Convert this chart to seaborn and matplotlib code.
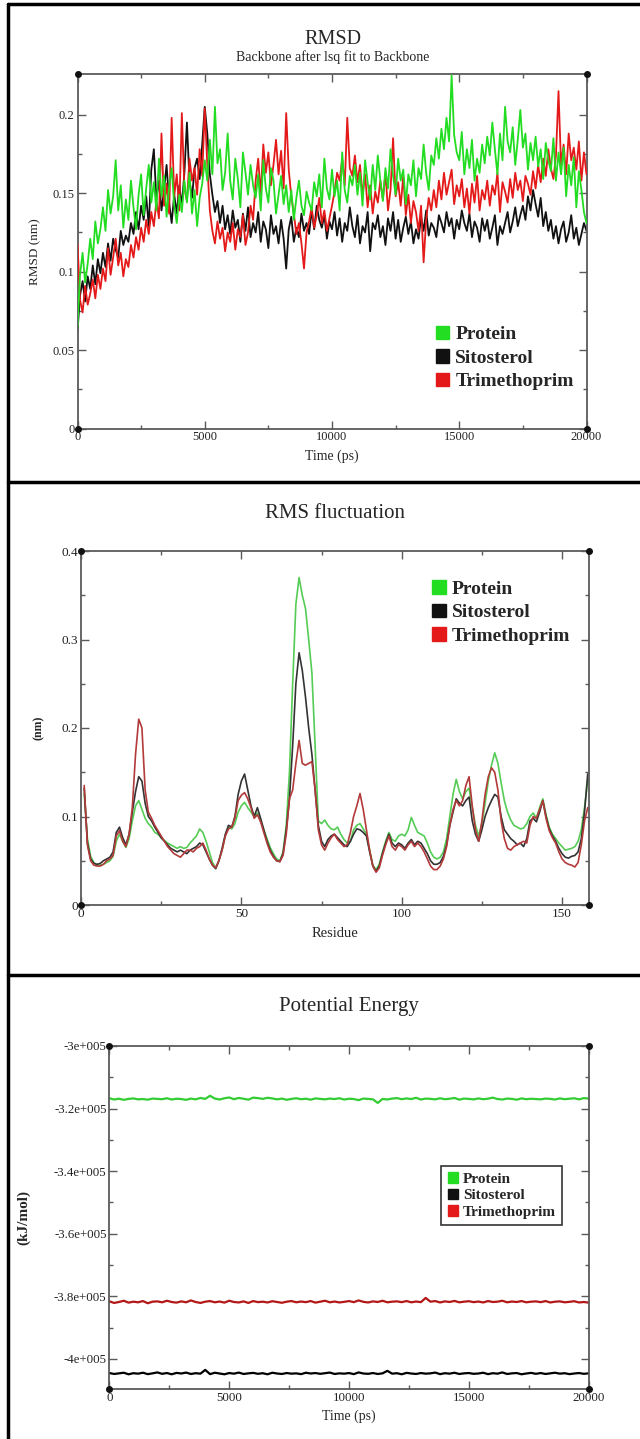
import numpy as np
import pandas as pd
import matplotlib
import matplotlib.pyplot as plt
import seaborn as sns
from matplotlib.patches import Patch
from matplotlib.lines import Line2D

matplotlib.use('Agg')

sns.set_style('ticks')
plt.rcParams['font.family'] = ['Liberation Serif', 'DejaVu Serif']

names = ['Protein', 'Sitosterol', 'Trimethoprim']

# ---------------- RMSD (nm), one value every 100 ps ----------------
rmsd_time = np.arange(0, 20001, 100)

rmsd_protein = [
    0.065, 0.098, 0.112, 0.093, 0.105, 0.121, 0.108, 0.132, 0.118, 0.127,
    0.141, 0.126, 0.152, 0.137, 0.148, 0.171, 0.139, 0.155, 0.128, 0.146,
    0.133, 0.158, 0.141, 0.127, 0.149, 0.162, 0.136, 0.153, 0.168, 0.144,
    0.157, 0.139, 0.172, 0.148, 0.161, 0.135, 0.154, 0.166, 0.142, 0.131,
    0.149, 0.138, 0.158, 0.144, 0.163, 0.137, 0.152, 0.129, 0.147, 0.156,
    0.171, 0.158, 0.184, 0.162, 0.205, 0.169, 0.178, 0.152, 0.163, 0.188,
    0.158, 0.146, 0.172, 0.159, 0.141, 0.176, 0.163, 0.149, 0.168, 0.155,
    0.147, 0.162, 0.139, 0.171, 0.153, 0.144, 0.166, 0.158, 0.137, 0.149,
    0.161, 0.143, 0.155, 0.138, 0.152, 0.133, 0.147, 0.158, 0.142, 0.136,
    0.151, 0.144, 0.139, 0.157, 0.148, 0.162, 0.141, 0.172, 0.153, 0.146,
    0.165, 0.148, 0.158, 0.139, 0.176, 0.152, 0.144, 0.161, 0.155, 0.168,
    0.149, 0.163, 0.142, 0.171, 0.157, 0.146, 0.168, 0.152, 0.174, 0.158,
    0.145, 0.166, 0.153, 0.178, 0.161, 0.149, 0.172, 0.158, 0.165, 0.143,
    0.162, 0.155, 0.171, 0.148, 0.166, 0.159, 0.181, 0.163, 0.152, 0.174,
    0.168, 0.185, 0.172, 0.191, 0.178, 0.198, 0.183, 0.225, 0.187, 0.176,
    0.171, 0.189, 0.162, 0.178, 0.166, 0.184, 0.158, 0.172, 0.163, 0.181,
    0.169, 0.186, 0.174, 0.195, 0.178, 0.162, 0.188, 0.171, 0.205, 0.183,
    0.176, 0.192, 0.168, 0.184, 0.203, 0.179, 0.188, 0.165, 0.182, 0.171,
    0.186, 0.167, 0.178, 0.159, 0.182, 0.171, 0.164, 0.185, 0.158, 0.176,
    0.162, 0.179, 0.148, 0.168, 0.155, 0.173, 0.141, 0.164, 0.152, 0.138,
    0.131,
]

rmsd_sitosterol = [
    0.062, 0.085, 0.094, 0.081, 0.097, 0.089, 0.104, 0.092, 0.108, 0.099,
    0.112, 0.103, 0.118, 0.107, 0.121, 0.114, 0.109, 0.126, 0.117, 0.123,
    0.119, 0.131, 0.124, 0.138, 0.127, 0.142, 0.133, 0.148, 0.129, 0.165,
    0.178, 0.146, 0.158, 0.139, 0.152, 0.168, 0.144, 0.131, 0.149, 0.137,
    0.155, 0.142, 0.163, 0.195, 0.158, 0.147, 0.166, 0.172, 0.159, 0.181,
    0.205, 0.188, 0.162, 0.149, 0.138, 0.145, 0.131, 0.142, 0.127, 0.136,
    0.124, 0.139, 0.128, 0.133, 0.119, 0.137, 0.126, 0.141, 0.122, 0.131,
    0.125, 0.138, 0.119, 0.132, 0.127, 0.115, 0.136, 0.124, 0.129, 0.118,
    0.133, 0.121, 0.102, 0.127, 0.135, 0.119, 0.128, 0.122, 0.137, 0.126,
    0.131, 0.124, 0.139, 0.127, 0.142, 0.133, 0.128, 0.136, 0.121, 0.132,
    0.127, 0.138, 0.123, 0.134, 0.119, 0.131, 0.126, 0.141, 0.129, 0.122,
    0.136, 0.118, 0.129, 0.125, 0.138, 0.113, 0.131, 0.127, 0.136, 0.122,
    0.129, 0.117, 0.134, 0.126, 0.138, 0.121, 0.133, 0.119, 0.128, 0.135,
    0.124, 0.132, 0.118, 0.127, 0.121, 0.135, 0.126, 0.139, 0.123, 0.131,
    0.128, 0.122, 0.136, 0.131, 0.125, 0.138, 0.129, 0.134, 0.121, 0.133,
    0.127, 0.139, 0.131, 0.126, 0.137, 0.122, 0.132, 0.128, 0.119, 0.134,
    0.126, 0.133, 0.121, 0.128, 0.136, 0.117, 0.129, 0.124, 0.131, 0.138,
    0.125, 0.132, 0.141, 0.129, 0.136, 0.142, 0.133, 0.148, 0.139, 0.152,
    0.143, 0.135, 0.147, 0.129, 0.138, 0.126, 0.133, 0.121, 0.129, 0.118,
    0.127, 0.132, 0.119, 0.125, 0.136, 0.121, 0.128, 0.117, 0.124, 0.131,
    0.126,
]

rmsd_trimethoprim = [
    0.118, 0.082, 0.074, 0.091, 0.079, 0.086, 0.095, 0.083, 0.098, 0.089,
    0.102, 0.094, 0.115, 0.098, 0.109, 0.121, 0.104, 0.112, 0.097, 0.108,
    0.103, 0.117, 0.109, 0.122, 0.114, 0.128, 0.119, 0.133, 0.124, 0.138,
    0.129, 0.145, 0.134, 0.188, 0.142, 0.156, 0.137, 0.198, 0.148, 0.162,
    0.139, 0.201, 0.153, 0.145, 0.172, 0.158, 0.166, 0.149, 0.178, 0.161,
    0.204, 0.168, 0.139, 0.126, 0.118, 0.132, 0.121, 0.128, 0.113, 0.125,
    0.119, 0.131, 0.114, 0.127, 0.122, 0.136, 0.117, 0.125, 0.142, 0.133,
    0.158, 0.172, 0.149, 0.181, 0.163, 0.176, 0.155, 0.168, 0.184, 0.162,
    0.177, 0.153, 0.201, 0.165, 0.148, 0.137, 0.124, 0.131, 0.118, 0.102,
    0.125, 0.132, 0.141, 0.128, 0.136, 0.147, 0.131, 0.139, 0.126, 0.134,
    0.142, 0.151, 0.163, 0.158, 0.172, 0.155, 0.198, 0.166, 0.161, 0.174,
    0.157, 0.168, 0.149, 0.162, 0.141, 0.155, 0.137, 0.151, 0.144, 0.158,
    0.146, 0.163, 0.139, 0.152, 0.185, 0.148, 0.157, 0.142, 0.161, 0.136,
    0.149, 0.131, 0.145, 0.138, 0.126, 0.142, 0.106, 0.133, 0.147, 0.139,
    0.152, 0.141, 0.158, 0.146, 0.163, 0.149, 0.157, 0.165, 0.143, 0.155,
    0.148, 0.159, 0.141, 0.153, 0.137, 0.156, 0.144, 0.161, 0.139, 0.152,
    0.146, 0.158, 0.142, 0.155, 0.149, 0.163, 0.138, 0.157, 0.151, 0.144,
    0.159, 0.147, 0.163, 0.152, 0.158, 0.145, 0.161, 0.156, 0.149, 0.164,
    0.153, 0.168, 0.157, 0.172, 0.161, 0.178, 0.166, 0.159, 0.174, 0.215,
    0.168, 0.181, 0.162, 0.188, 0.171, 0.179, 0.165, 0.183, 0.158, 0.176,
    0.162,
]

# ---------------- RMSF (nm) per residue ----------------
residues = np.arange(1, 159)

rmsf_protein = [
    0.125, 0.075, 0.055, 0.048, 0.045, 0.045, 0.046, 0.048, 0.050, 0.055,
    0.072, 0.080, 0.072, 0.065, 0.075, 0.095, 0.112, 0.118, 0.108, 0.098,
    0.092, 0.088, 0.082, 0.080, 0.076, 0.073, 0.070, 0.068, 0.066, 0.064,
    0.066, 0.064, 0.065, 0.070, 0.074, 0.078, 0.086, 0.082, 0.072, 0.060,
    0.048, 0.042, 0.050, 0.062, 0.078, 0.088, 0.086, 0.092, 0.105, 0.112,
    0.116, 0.110, 0.105, 0.100, 0.104, 0.095, 0.085, 0.075, 0.065, 0.058,
    0.052, 0.050, 0.060, 0.090, 0.150, 0.250, 0.340, 0.370, 0.350, 0.335,
    0.300, 0.262, 0.180, 0.095, 0.092, 0.096, 0.090, 0.086, 0.085, 0.088,
    0.080, 0.074, 0.070, 0.072, 0.085, 0.090, 0.092, 0.086, 0.080, 0.062,
    0.045, 0.040, 0.046, 0.060, 0.072, 0.082, 0.074, 0.072, 0.078, 0.080,
    0.078, 0.085, 0.099, 0.090, 0.082, 0.080, 0.078, 0.070, 0.060, 0.054,
    0.052, 0.054, 0.060, 0.075, 0.100, 0.125, 0.142, 0.128, 0.120, 0.128,
    0.132, 0.110, 0.090, 0.078, 0.092, 0.115, 0.140, 0.158, 0.172, 0.160,
    0.138, 0.118, 0.105, 0.096, 0.090, 0.088, 0.086, 0.087, 0.092, 0.100,
    0.104, 0.098, 0.110, 0.120, 0.102, 0.088, 0.080, 0.075, 0.070, 0.066,
    0.062, 0.063, 0.064, 0.066, 0.072, 0.085, 0.110, 0.140,
]

rmsf_sitosterol = [
    0.132, 0.070, 0.052, 0.047, 0.046, 0.047, 0.050, 0.052, 0.054, 0.060,
    0.082, 0.088, 0.076, 0.068, 0.080, 0.105, 0.128, 0.145, 0.140, 0.115,
    0.100, 0.095, 0.088, 0.082, 0.076, 0.072, 0.068, 0.064, 0.062, 0.060,
    0.062, 0.060, 0.058, 0.062, 0.064, 0.066, 0.070, 0.068, 0.060, 0.052,
    0.045, 0.041, 0.050, 0.064, 0.080, 0.090, 0.088, 0.100, 0.125, 0.140,
    0.148, 0.130, 0.112, 0.100, 0.110, 0.098, 0.085, 0.072, 0.062, 0.055,
    0.050, 0.049, 0.058, 0.085, 0.120, 0.180, 0.250, 0.285, 0.265, 0.235,
    0.200, 0.170, 0.130, 0.090, 0.072, 0.066, 0.074, 0.078, 0.080, 0.076,
    0.072, 0.068, 0.066, 0.072, 0.080, 0.086, 0.085, 0.082, 0.078, 0.060,
    0.044, 0.038, 0.044, 0.058, 0.070, 0.080, 0.070, 0.066, 0.070, 0.068,
    0.064, 0.070, 0.074, 0.068, 0.072, 0.070, 0.064, 0.058, 0.050, 0.046,
    0.046, 0.048, 0.055, 0.068, 0.090, 0.105, 0.120, 0.115, 0.112, 0.118,
    0.122, 0.095, 0.080, 0.072, 0.085, 0.100, 0.110, 0.118, 0.125, 0.122,
    0.100, 0.085, 0.080, 0.075, 0.072, 0.068, 0.070, 0.066, 0.075, 0.095,
    0.098, 0.094, 0.105, 0.118, 0.100, 0.086, 0.078, 0.072, 0.064, 0.058,
    0.054, 0.053, 0.055, 0.056, 0.060, 0.075, 0.105, 0.148,
]

rmsf_trimethoprim = [
    0.135, 0.068, 0.050, 0.045, 0.044, 0.044, 0.046, 0.050, 0.052, 0.056,
    0.078, 0.084, 0.072, 0.066, 0.080, 0.110, 0.170, 0.210, 0.200, 0.130,
    0.105, 0.098, 0.090, 0.084, 0.078, 0.072, 0.066, 0.062, 0.058, 0.056,
    0.054, 0.058, 0.062, 0.062, 0.060, 0.064, 0.066, 0.070, 0.062, 0.052,
    0.045, 0.042, 0.050, 0.062, 0.078, 0.086, 0.088, 0.098, 0.118, 0.124,
    0.127, 0.120, 0.110, 0.098, 0.102, 0.094, 0.082, 0.070, 0.060, 0.054,
    0.050, 0.049, 0.056, 0.080, 0.120, 0.130, 0.160, 0.186, 0.160, 0.158,
    0.160, 0.162, 0.130, 0.085, 0.068, 0.062, 0.070, 0.076, 0.080, 0.074,
    0.070, 0.066, 0.068, 0.082, 0.100, 0.112, 0.126, 0.108, 0.085, 0.062,
    0.044, 0.037, 0.042, 0.056, 0.068, 0.078, 0.066, 0.062, 0.068, 0.066,
    0.062, 0.068, 0.072, 0.066, 0.070, 0.066, 0.060, 0.052, 0.044, 0.040,
    0.040, 0.044, 0.052, 0.066, 0.090, 0.108, 0.118, 0.112, 0.118, 0.135,
    0.145, 0.112, 0.085, 0.072, 0.095, 0.125, 0.145, 0.155, 0.150, 0.130,
    0.095, 0.075, 0.064, 0.062, 0.066, 0.068, 0.070, 0.072, 0.070, 0.090,
    0.100, 0.098, 0.108, 0.118, 0.098, 0.084, 0.076, 0.070, 0.060, 0.052,
    0.048, 0.046, 0.045, 0.043, 0.048, 0.068, 0.095, 0.110,
]

# ---------------- Potential energy (kJ/mol), one value every 200 ps ----------------
pe_time = np.arange(0, 20001, 200)

pe_protein = [
    -316700, -317100, -316850, -317200, -316900, -316750, -317050, -316950, -317150, -316800,
    -316900, -317000, -316700, -317100, -316850, -316950, -317200, -316800, -317050, -316600,
    -316900, -315900, -316800, -317100, -316700, -316450, -317000, -316600, -316850, -317150,
    -316500, -316650, -316900, -316550, -316750, -317050, -316800, -317200, -316900, -316700,
    -317000, -316850, -317150, -316750, -316900, -317050, -316800, -316950, -316700, -317100,
    -316850, -316950, -317300, -316800, -316900, -317050, -318200, -316900, -317100, -316800,
    -316650, -317000, -316750, -316950, -316550, -317100, -316800, -316900, -317050, -316700,
    -317000, -316850, -316600, -317150, -316800, -316900, -317050, -316750, -317000, -316850,
    -316500, -316950, -317100, -316800, -316900, -317150, -316750, -317000, -316850, -316950,
    -317050, -316800, -316900, -317100, -316750, -317000, -316850, -316700, -317050, -316650,
    -316800,
]

pe_sitosterol = [
    -404500, -404800, -404600, -404400, -404900, -404550, -404700, -404400, -404850, -404600,
    -404300, -404750, -404500, -404900, -404450, -404650, -404350, -404800, -404550, -404700,
    -403500, -404850, -404400, -404650, -404900, -404500, -404700, -404350, -404800, -404600,
    -404450, -404750, -404550, -404900, -404400, -404650, -404800, -404500, -404700, -404600,
    -404850, -404400, -404650, -404500, -404750, -404550, -404350, -404800, -404600, -404700,
    -404500, -404850, -404300, -404650, -404750, -404500, -404800, -404600, -403800, -404700,
    -404550, -404900, -404450, -404650, -404800, -404500, -404700, -404600, -404350, -404850,
    -404550, -404700, -404400, -404800, -404600, -404500, -404750, -404650, -404400, -404850,
    -404550, -404700, -404300, -404800, -404600, -404500, -404900, -404650, -404450, -404750,
    -404500, -404800, -404600, -404400, -404700, -404550, -404850, -404650, -404500, -404750,
    -404600,
]

pe_trimethoprim = [
    -381600, -382100, -381800, -381400, -382000, -381700, -381900, -381500, -382200, -381700,
    -381600, -381900, -381400, -381800, -382000, -381600, -381900, -381300, -381800, -382100,
    -381700, -381500, -381900, -381650, -382000, -381400, -381800, -381950, -381600, -382100,
    -381500, -381850, -381700, -381950, -381550, -381800, -382050, -381700, -381500, -381900,
    -381650, -381850, -381500, -382000, -381700, -381400, -381900, -381650, -381950, -381750,
    -381500, -381850, -381300, -381750, -381950, -381600, -381800, -381400, -381900, -381700,
    -381600, -381850, -381500, -381900, -381650, -381850, -380500, -381700, -381500, -381950,
    -381600, -381800, -381450, -381900, -381700, -381550, -381850, -381650, -381950, -381500,
    -381800, -381700, -381400, -381900, -381650, -381800, -381500, -381900, -381700, -381600,
    -381850, -381500, -381950, -381700, -381600, -381900, -381750, -381550, -381950, -381800,
    -382000,
]

# ---------------- figure ----------------
fig = plt.figure(figsize=(6.4, 14.39), dpi=100)
W, H = 640.0, 1439.0


def box(left, top, right, bottom):
    return [left / W, 1 - bottom / H, (right - left) / W, (bottom - top) / H]


def grace_style(ax, labelsize):
    for s in ax.spines.values():
        s.set_color('#5a5a5a')
        s.set_linewidth(1.3)
    ax.tick_params(which='both', direction='in', top=True, right=True,
                   color='#5a5a5a', labelcolor='#222222', labelsize=labelsize, pad=2)
    ax.tick_params(which='major', length=6, width=1)
    ax.tick_params(which='minor', length=3, width=1)
    ax.plot([0, 1, 0, 1], [0, 0, 1, 1], 'o', ms=4, color='#111111',
            transform=ax.transAxes, clip_on=False, zorder=10)


def square_handles(colors):
    return [Patch(facecolor=c, edgecolor=c) for c in colors]


legend_colors = ['#22dd22', '#111111', '#e41a1a']

# panel frame lines
for y in [4, 482, 975]:
    fig.add_artist(Line2D([8 / W, 1], [1 - y / H, 1 - y / H], color='black', lw=2.5))
fig.add_artist(Line2D([8 / W, 8 / W], [0, 1 - 4 / H], color='black', lw=2.5))

# ---- RMSD ----
ax1 = fig.add_axes(box(77.5, 74, 586.5, 428.7))
rmsd_colors = ['#22dd22', '#111111', '#e41a1a']
rmsd_df = pd.DataFrame({'time': rmsd_time, 'Protein': rmsd_protein,
                        'Sitosterol': rmsd_sitosterol, 'Trimethoprim': rmsd_trimethoprim})
for name, col, z in zip(names, rmsd_colors, [4, 2, 3]):
    sns.lineplot(data=rmsd_df, x='time', y=name, color=col, linewidth=1.3,
                 estimator=None, ax=ax1, zorder=z)
ax1.set_xlim(0, 20000)
ax1.set_ylim(0, 0.2259)
ax1.set_xticks([0, 5000, 10000, 15000, 20000])
ax1.set_xticks([2500, 7500, 12500, 17500], minor=True)
ax1.set_yticks([0, 0.05, 0.1, 0.15, 0.2])
ax1.set_yticklabels(['0', '0.05', '0.1', '0.15', '0.2'])
ax1.set_yticks([0.025, 0.075, 0.125, 0.175], minor=True)
ax1.set_xlabel('Time (ps)', fontsize=10)
ax1.set_ylabel('RMSD (nm)', fontsize=9.5)
ax1.xaxis.set_label_coords(0.5, -0.058)
ax1.yaxis.set_label_coords(-0.072, 0.5)
grace_style(ax1, 9)
ax1.legend(square_handles(legend_colors), names, loc='upper left',
           bbox_to_anchor=(0.685, 0.318), frameon=False,
           prop={'weight': 'bold', 'size': 14}, handlelength=0.7,
           handleheight=0.7, handletextpad=0.3, labelspacing=0.3,
           borderpad=0)
fig.text(333 / W, 1 - 39 / H, 'RMSD', ha='center', va='center', fontsize=14.5)
fig.text(333 / W, 1 - 57 / H, 'Backbone after lsq fit to Backbone',
         ha='center', va='center', fontsize=10)

# ---- RMSF ----
ax2 = fig.add_axes(box(81, 551, 589, 905))
rmsf_colors = ['#55cc55', '#333333', '#b33a3a']
rmsf_df = pd.DataFrame({'residue': residues, 'Protein': rmsf_protein,
                        'Sitosterol': rmsf_sitosterol, 'Trimethoprim': rmsf_trimethoprim})
for name, col in zip(names, rmsf_colors):
    sns.lineplot(data=rmsf_df, x='residue', y=name, color=col, linewidth=1.2,
                 estimator=None, ax=ax2)
ax2.set_xlim(0, 158.4)
ax2.set_ylim(0, 0.4)
ax2.set_xticks([0, 50, 100, 150])
ax2.set_xticks([25, 75, 125], minor=True)
ax2.set_yticks([0, 0.1, 0.2, 0.3, 0.4])
ax2.set_yticklabels(['0', '0.1', '0.2', '0.3', '0.4'])
ax2.set_yticks([0.05, 0.15, 0.25, 0.35], minor=True)
ax2.set_xlabel('Residue', fontsize=10.5)
ax2.set_ylabel('(nm)', fontsize=8.5, fontweight='bold')
ax2.xaxis.set_label_coords(0.5, -0.062)
ax2.yaxis.set_label_coords(-0.071, 0.5)
grace_style(ax2, 9.5)
ax2.legend(square_handles(legend_colors), names,
           loc='upper left', bbox_to_anchor=(0.672, 0.945), frameon=False,
           prop={'weight': 'bold', 'size': 14}, handlelength=0.7,
           handleheight=0.7, handletextpad=0.3, labelspacing=0.3, borderpad=0)
fig.text(335 / W, 1 - 513 / H, 'RMS fluctuation', ha='center', va='center', fontsize=15)

# ---- Potential energy ----
ax3 = fig.add_axes(box(109.4, 1046, 588.6, 1389))
pe_colors = ['#33cc33', '#000000', '#b31717']
pe_df = pd.DataFrame({'time': pe_time, 'Protein': pe_protein,
                      'Sitosterol': pe_sitosterol, 'Trimethoprim': pe_trimethoprim})
for name, col in zip(names, pe_colors):
    sns.lineplot(data=pe_df, x='time', y=name, color=col, linewidth=1.6,
                 estimator=None, ax=ax3)
ax3.set_xlim(0, 20000)
ax3.set_ylim(-409600, -300000)
ax3.set_xticks([0, 5000, 10000, 15000, 20000])
ax3.set_xticks([2500, 7500, 12500, 17500], minor=True)
ax3.set_yticks([-400000, -380000, -360000, -340000, -320000, -300000])
ax3.set_yticklabels(['-4e+005', '-3.8e+005', '-3.6e+005', '-3.4e+005', '-3.2e+005', '-3e+005'])
ax3.set_yticks([-390000, -370000, -350000, -330000, -310000], minor=True)
ax3.set_xlabel('Time (ps)', fontsize=10)
ax3.set_ylabel('(kJ/mol)', fontsize=11, fontweight='bold')
ax3.xaxis.set_label_coords(0.5, -0.061)
ax3.yaxis.set_label_coords(-0.164, 0.5)
grace_style(ax3, 9.3)
leg3 = ax3.legend(square_handles(legend_colors), names,
                  loc='upper left', bbox_to_anchor=(0.677, 0.673), frameon=True,
                  fancybox=False, edgecolor='black',
                  prop={'weight': 'bold', 'size': 11}, handlelength=0.7,
                  handleheight=0.7, handletextpad=0.3, labelspacing=0.2,
                  borderpad=0.4)
leg3.get_frame().set_linewidth(1.2)
fig.text(349 / W, 1 - 1007 / H, 'Potential Energy', ha='center', va='center', fontsize=15)

plt.savefig('out.png', dpi=100)
plt.close()
